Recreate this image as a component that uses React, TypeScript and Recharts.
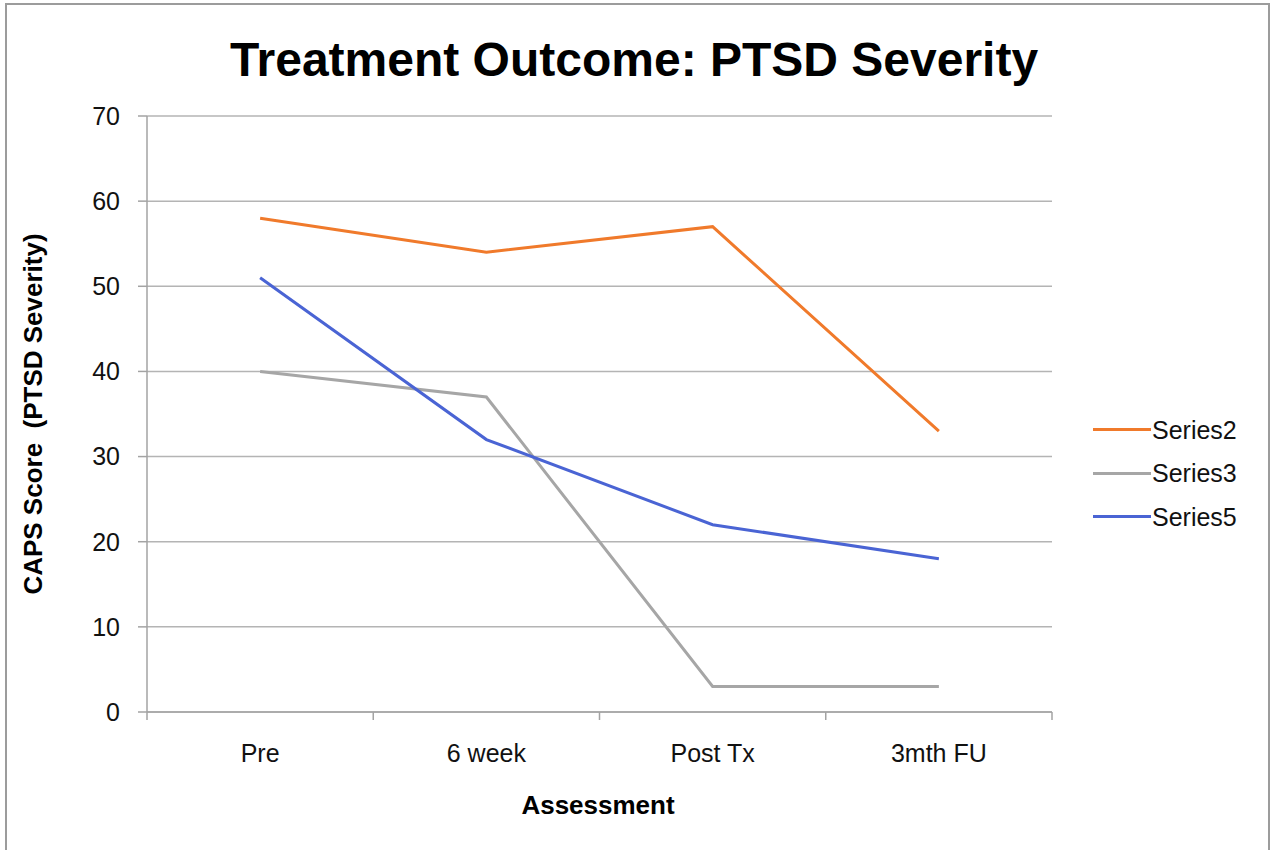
import React from "react";
import { LineChart, Line, XAxis, YAxis, CartesianGrid } from "recharts";

const categories = ["Pre", "6 week", "Post Tx", "3mth FU"];
const series2 = [58, 54, 57, 33];
const series3 = [40, 37, 3, 3];
const series5 = [51, 32, 22, 18];
const yTicks = [0, 10, 20, 30, 40, 50, 60, 70];

const seriesDefs = [
  { key: "s2", name: "Series2", values: series2, color: "#f07a2b" },
  { key: "s3", name: "Series3", values: series3, color: "#a6a6a6" },
  { key: "s5", name: "Series5", values: series5, color: "#4a64d4" },
];

const data = categories.map((c, i) => {
  const row: Record<string, string | number> = { cat: c };
  seriesDefs.forEach((s) => (row[s.key] = s.values[i]));
  return row;
});

const W = 1274;
const H = 850;
const PLOT_LEFT = 147;
const PLOT_RIGHT = 1052;
const PLOT_TOP = 116;
const PLOT_BOTTOM = 712;
const BAND = (PLOT_RIGHT - PLOT_LEFT) / categories.length;
const Y_AXIS_W = 60;
const X_AXIS_H = 60;
const FONT = "'Liberation Sans', Arial, Helvetica, sans-serif";
const AXIS_COLOR = "#a3a3a3";

const XTick = (props: any) => {
  const { x, payload, index } = props;
  const i = payload && typeof payload.index === "number" ? payload.index : index;
  const left = x - BAND / 2;
  return (
    <g>
      <line x1={left} x2={left} y1={PLOT_BOTTOM} y2={PLOT_BOTTOM + 8} stroke={AXIS_COLOR} strokeWidth={1.5} />
      {i === categories.length - 1 && (
        <line x1={x + BAND / 2} x2={x + BAND / 2} y1={PLOT_BOTTOM} y2={PLOT_BOTTOM + 8} stroke={AXIS_COLOR} strokeWidth={1.5} />
      )}
      <text x={x} y={PLOT_BOTTOM + 50} textAnchor="middle" fill="#111" fontSize={25} fontFamily={FONT}>
        {payload.value}
      </text>
    </g>
  );
};

export default function App() {
  return (
    <div style={{ position: "absolute", left: 0, top: 0, width: W, height: H, overflow: "hidden", background: "#fff", fontFamily: FONT }}>
      <div style={{ position: "absolute", left: 5, top: 3, width: 1261, height: 900, border: "2px solid #9c9c9c" }} />
      <div style={{ position: "absolute", left: 0, width: 1268, top: 32, textAlign: "center", fontSize: 48, fontWeight: "bold", color: "#000", lineHeight: "56px" }}>
        Treatment Outcome: PTSD Severity
      </div>
      <LineChart
        width={W}
        height={H}
        data={data}
        margin={{ top: PLOT_TOP, right: W - PLOT_RIGHT, bottom: H - PLOT_BOTTOM - X_AXIS_H, left: PLOT_LEFT - Y_AXIS_W }}
        style={{ position: "absolute", left: 0, top: 0 }}
      >
        <CartesianGrid vertical={false} stroke="#b4b4b4" strokeWidth={1.5} />
        <XAxis
          dataKey="cat"
          type="category"
          height={X_AXIS_H}
          padding={{ left: BAND / 2, right: BAND / 2 }}
          axisLine={{ stroke: AXIS_COLOR, strokeWidth: 1.5 }}
          tickLine={false}
          tick={<XTick />}
          interval={0}
        />
        <YAxis
          type="number"
          domain={[0, 70]}
          ticks={yTicks}
          width={Y_AXIS_W}
          tickSize={9}
          tickMargin={18}
          axisLine={{ stroke: AXIS_COLOR, strokeWidth: 1.5 }}
          tickLine={{ stroke: AXIS_COLOR, strokeWidth: 1.5 }}
          tick={{ fill: "#111", fontSize: 25, fontFamily: FONT }}
          interval={0}
        />
        {seriesDefs.map((s) => (
          <Line
            key={s.key}
            dataKey={s.key}
            name={s.name}
            stroke={s.color}
            strokeWidth={3}
            dot={false}
            activeDot={false}
            isAnimationActive={false}
          />
        ))}
      </LineChart>
      <div
        style={{
          position: "absolute",
          left: 20,
          top: 414,
          transform: "translate(-50%, -50%) rotate(-90deg)",
          transformOrigin: "center",
          whiteSpace: "pre",
          fontSize: 26,
          fontWeight: "bold",
          color: "#000",
          marginLeft: 13,
        }}
      >
        {"CAPS Score  (PTSD Severity)"}
      </div>
      <div style={{ position: "absolute", left: 498, width: 200, top: 790, textAlign: "center", fontSize: 26, fontWeight: "bold", color: "#000", lineHeight: "30px" }}>
        Assessment
      </div>
      <div style={{ position: "absolute", left: 1093, top: 408 }}>
        {seriesDefs.map((s) => (
          <div key={s.key} style={{ display: "flex", alignItems: "center", height: 43.5 }}>
            <div style={{ width: 58, height: 3, background: s.color }} />
            <span style={{ fontSize: 25, color: "#111", marginLeft: 1, lineHeight: "30px" }}>{s.name}</span>
          </div>
        ))}
      </div>
    </div>
  );
}
